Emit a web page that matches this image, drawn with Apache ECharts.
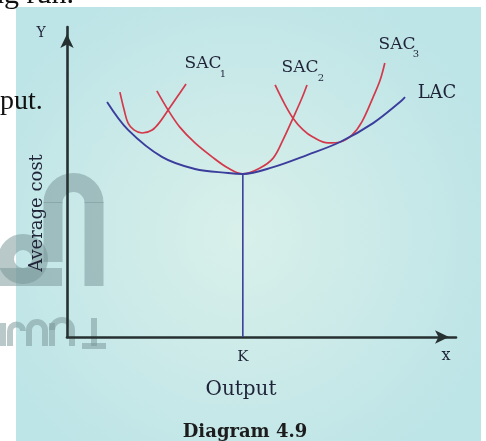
<!DOCTYPE html>
<html>
<head>
<meta charset="utf-8">
<script src="https://cdn.jsdelivr.net/npm/echarts@6/dist/echarts.min.js"></script>
<style>
html,body{margin:0;padding:0;background:#ffffff;}
#chart{width:486px;height:441px;}
</style>
</head>
<body>
<div id="chart"></div>
<script>
// ---- data (x = output, y = average cost, arbitrary units) ----
const lacX  = [1.03, 1.57, 2.44, 3.29, 4.14, 4.52, 5.30, 6.17, 7.02, 7.87, 8.56, 8.69];
const lacY  = [7.58, 6.68, 5.81, 5.42, 5.29, 5.26, 5.48, 5.87, 6.29, 6.90, 7.58, 7.74];

const sac1X = [1.36, 1.47, 1.57, 1.72, 1.93, 2.19, 2.39, 2.60, 2.83, 3.06];
const sac1Y = [7.90, 7.32, 6.90, 6.68, 6.58, 6.68, 6.94, 7.32, 7.74, 8.16];

const sac2X = [2.31, 2.60, 2.90, 3.29, 3.73, 4.14, 4.52, 4.96, 5.30, 5.55, 5.81, 6.04, 6.17];
const sac2Y = [7.94, 7.32, 6.77, 6.26, 5.81, 5.45, 5.26, 5.45, 5.77, 6.35, 7.06, 7.71, 8.13];

const sac3X = [5.35, 5.58, 5.81, 6.07, 6.32, 6.71, 7.02, 7.33, 7.58, 7.87, 8.05, 8.17];
const sac3Y = [8.13, 7.55, 7.06, 6.68, 6.45, 6.26, 6.29, 6.52, 6.94, 7.74, 8.29, 8.84];

const kValue = [4.52, 5.26];            // output K and minimum LAC
const tickLabels = ['K'];
const curveNames = ['SAC', 'SAC', 'SAC', 'LAC'];
const curveSubs = ['1', '2', '3', ''];
const axisTitles = ['Output', 'Average cost', 'Y', 'x'];
const caption = 'Diagram 4.9';
const pageText = ['ng run.', 'put.'];

const zip = (xs, ys) => xs.map((x, i) => [x, ys[i]]);

const RED = '#d4384b';
const BLUE = '#3b3d9c';
const AXIS = '#263030';
const TXT = '#1f2338';
const SERIF = 'DejaVu Serif';

const chart = echarts.init(document.getElementById('chart'), null, {renderer: 'canvas'});

function txt(text, x, y, size, opts) {
  opts = opts || {};
  return {
    type: 'text', x: x, y: y, z: 20, rotation: opts.rotation || 0,
    style: {
      text: text, x: 0, y: 0,
      font: (opts.bold ? 'bold ' : '') + size + 'px "' + (opts.family || SERIF) + '"',
      fill: opts.fill || TXT,
      textAlign: opts.align || 'center',
      textVerticalAlign: 'middle'
    }
  };
}

const wm = 'rgba(120,150,152,0.52)';
function wline(x1, y1, x2, y2, w) {
  return {type: 'line', z: -50, shape: {x1: x1, y1: y1, x2: x2, y2: y2}, style: {stroke: wm, lineWidth: w}};
}
function warc(cx, cy, r, w) {
  return {type: 'arc', z: -50, shape: {cx: cx, cy: cy, r: r, startAngle: Math.PI, endAngle: 2 * Math.PI, clockwise: true},
    style: {stroke: wm, lineWidth: w, fill: 'none'}};
}

const curveBase = {type: 'line', smooth: 0.35, symbol: 'none'};

const option = {
  animation: false,
  backgroundColor: '#ffffff',
  grid: {left: 67, right: 30, top: 27, bottom: 104, containLabel: false},
  xAxis: {
    type: 'value', min: 0, max: 10,
    axisLine: {show: true, onZero: false, symbol: ['none', 'arrow'], symbolSize: [10, 14], symbolOffset: [0, -7],
      lineStyle: {color: AXIS, width: 2.6}},
    axisTick: {show: false},
    splitLine: {show: false},
    axisLabel: {
      customValues: [kValue[0]],
      formatter: () => tickLabels[0],
      margin: 13, color: TXT, fontFamily: SERIF, fontSize: 15
    }
  },
  yAxis: {
    type: 'value', min: 0, max: 10,
    axisLine: {show: true, onZero: false, symbol: ['none', 'arrow'], symbolSize: [10, 14], symbolOffset: [0, -7],
      lineStyle: {color: AXIS, width: 2.6}},
    axisTick: {show: false},
    splitLine: {show: false},
    axisLabel: {show: false}
  },
  series: [
    {type: 'line', name: 'K', data: [[kValue[0], 0], [kValue[0], kValue[1]]], symbol: 'none',
      lineStyle: {color: BLUE, width: 1.6}, z: 3},
    Object.assign({name: 'SAC1', data: zip(sac1X, sac1Y), lineStyle: {color: RED, width: 1.7}, z: 4}, curveBase),
    Object.assign({name: 'SAC2', data: zip(sac2X, sac2Y), lineStyle: {color: RED, width: 1.7}, z: 4}, curveBase),
    Object.assign({name: 'SAC3', data: zip(sac3X, sac3Y), lineStyle: {color: RED, width: 1.7}, z: 4}, curveBase),
    Object.assign({name: 'LAC', data: zip(lacX, lacY), lineStyle: {color: BLUE, width: 1.9}, z: 5}, curveBase)
  ],
  graphic: {
    elements: [
      // panel background
      {type: 'rect', z: -100, shape: {x: 16, y: 7, width: 465, height: 440},
        style: {fill: {type: 'radial', x: 0.48, y: 0.52, r: 0.62,
          colorStops: [{offset: 0, color: '#d9f0ea'}, {offset: 1, color: '#bde4e7'}]}}},
      // watermark (rough)
      warc(73.5, 203, 20.5, 19),
      wline(53, 202, 53, 262, 19),
      wline(94, 202, 94, 286, 19),
      {type: 'circle', z: -50, shape: {cx: 23, cy: 259, r: 17},
        style: {fill: 'none', stroke: wm, lineWidth: 16}},
      {type: 'rect', z: -50, shape: {x: 0, y: 268, width: 62, height: 18}, style: {fill: wm}},
      wline(3, 323, 3, 346, 6),
      wline(10, 331, 10, 346, 6),
      warc(16.5, 331, 6.5, 6),
      wline(29, 330, 29, 346, 6),
      wline(45, 330, 45, 346, 6),
      warc(37, 330, 8, 6),
      wline(52, 323, 52, 346, 6),
      warc(62, 330, 10, 6),
      wline(72, 330, 72, 346, 6),
      wline(82, 346, 106, 346, 6),
      wline(94, 318, 94, 346, 6),
      // page text outside the panel
      txt(pageText[0], 74, -5, 30, {align: 'right', family: 'Liberation Serif', fill: '#111'}),
      txt(pageText[1], 0, 102, 28, {align: 'left', family: 'Liberation Serif', fill: '#111'}),
      // curve labels
      txt(curveNames[0], 203, 64, 17),
      txt(curveSubs[0], 223, 74, 10),
      txt(curveNames[1], 300, 68, 17),
      txt(curveSubs[1], 321, 78, 10),
      txt(curveNames[2], 397, 45, 17),
      txt(curveSubs[2], 416, 54, 10),
      txt(curveNames[3], 437, 93, 18),
      // axis titles
      txt(axisTitles[2], 41, 33, 14),
      txt(axisTitles[3], 446, 356, 16),
      txt(axisTitles[0], 241, 390, 20),
      txt(axisTitles[1], 37, 213, 18, {rotation: Math.PI / 2}),
      txt(caption, 245, 432, 18, {bold: true, fill: '#1c1c1c'})
    ]
  }
};

chart.setOption(option);
</script>
</body>
</html>
